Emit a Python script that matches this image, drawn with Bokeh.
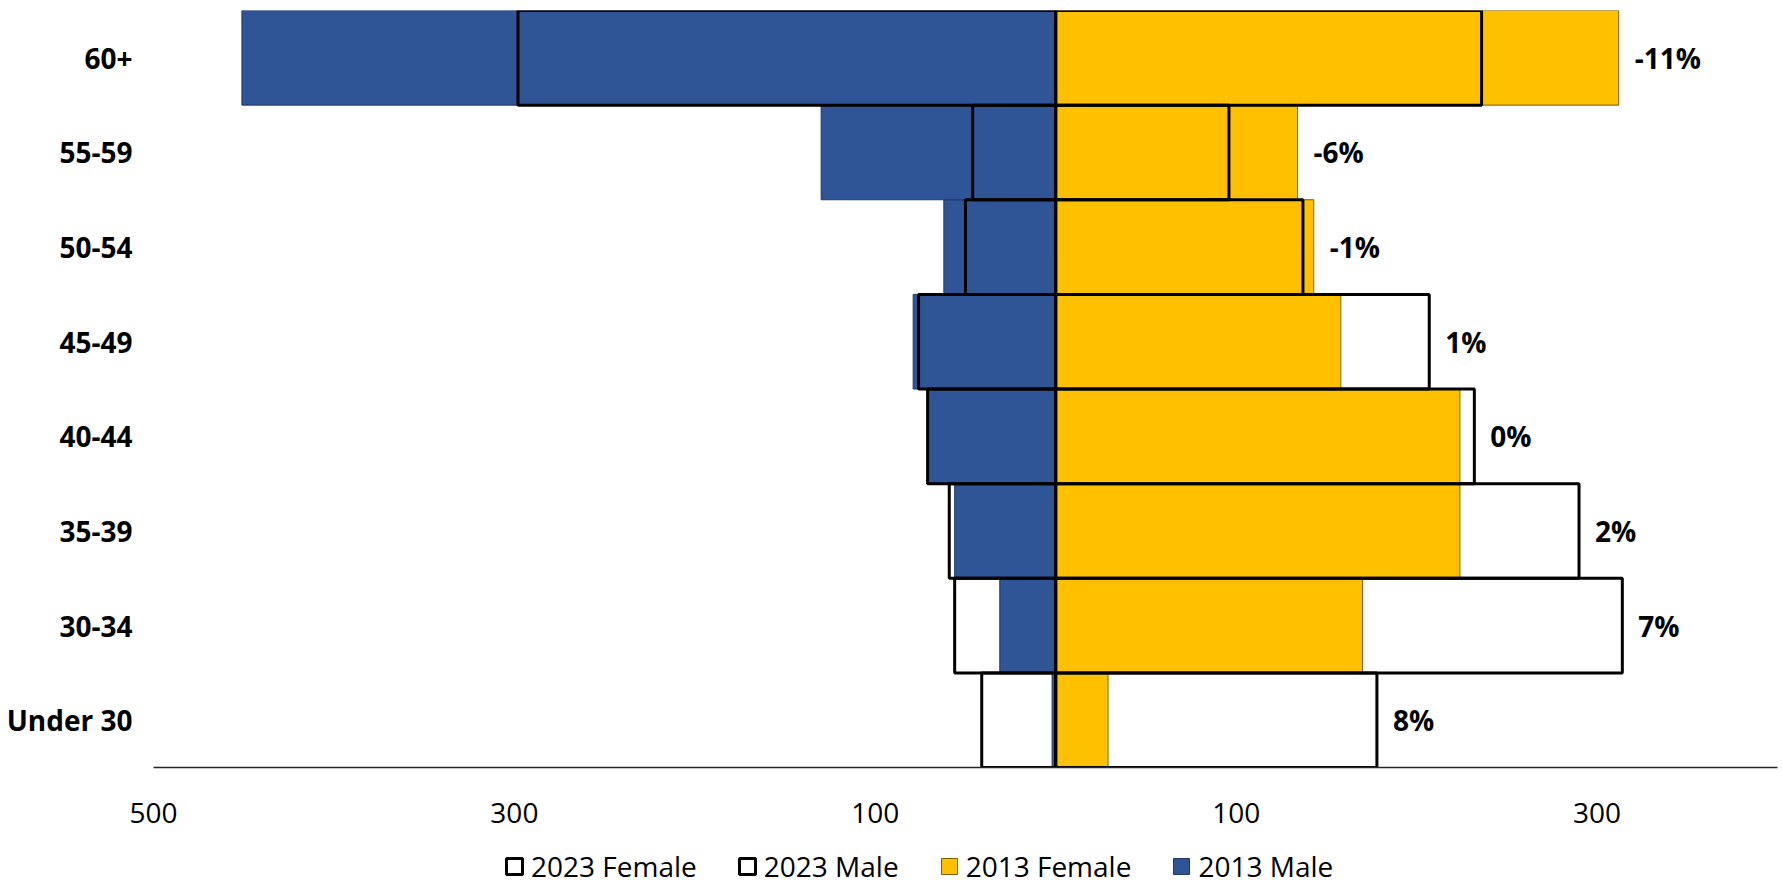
from bokeh.plotting import figure
from bokeh.models import (ColumnDataSource, FactorRange, Range1d, FixedTicker,
                          Legend, LegendItem)
from bokeh.layouts import column
from bokeh.embed import file_html
from bokeh.resources import INLINE
from bokeh.core.properties import value

# Age groups, bottom to top
categories = ["Under 30", "30-34", "35-39", "40-44", "45-49", "50-54", "55-59", "60+"]
male_2013 = [2, 31, 56, 71, 79, 62, 130, 451]
male_2023 = [41, 56, 59, 71, 76, 50, 46, 298]
female_2013 = [29, 170, 224, 224, 158, 143, 134, 312]
female_2023 = [178, 314, 290, 232, 207, 137, 96, 236]
change_labels = ["8%", "7%", "2%", "0%", "1%", "-1%", "-6%", "-11%"]
tick_values = [-500, -300, -100, 100, 300]
tick_labels = ["500", "300", "100", "100", "300"]
legend_labels = ["2023 Female", "2023 Male", "2013 Female", "2013 Male"]

FONT = "Open Sans"
BLUE, BLUE_EDGE = "#2F5597", "#1F3864"
GOLD, GOLD_EDGE = "#FFC000", "#7F6000"

W = 1778
H_MAIN = 845
LEFT = 153

src = ColumnDataSource(dict(
    cat=categories,
    m13=[-v for v in male_2013],
    m23=[-v for v in male_2023],
    f13=female_2013,
    f23=female_2023,
    lx=[max(a, b) for a, b in zip(female_2013, female_2023)],
    lab=change_labels,
))

p = figure(width=W, height=H_MAIN, output_backend="svg", toolbar_location=None,
           x_range=Range1d(-500, 400), y_range=FactorRange(*categories, range_padding=0),
           min_border_left=LEFT, min_border_right=1, min_border_top=10,
           min_border_bottom=H_MAIN - 767)
p.outline_line_color = None
p.xgrid.visible = False
p.ygrid.visible = False

p.hbar(y="cat", left="m13", right=0, height=1.0, source=src,
       fill_color=BLUE, line_color=BLUE_EDGE, line_width=1)
p.hbar(y="cat", left=0, right="f13", height=1.0, source=src,
       fill_color=GOLD, line_color=GOLD_EDGE, line_width=1)
p.hbar(y="cat", left="m23", right=0, height=1.0, source=src,
       fill_color=None, line_color="black", line_width=3)
p.hbar(y="cat", left=0, right="f23", height=1.0, source=src,
       fill_color=None, line_color="black", line_width=3)

p.text(x="lx", y="cat", text="lab", source=src, x_offset=16,
       text_align="left", text_baseline="middle", text_font=value(FONT),
       text_font_style="bold", text_font_size="28px", text_color="black")

# x axis
p.xaxis.ticker = FixedTicker(ticks=tick_values)
p.xaxis.major_label_overrides = {float(t): l for t, l in zip(tick_values, tick_labels)}
p.xaxis.major_tick_out = 0
p.xaxis.major_tick_in = 0
p.xaxis.minor_tick_out = 0
p.xaxis.minor_tick_in = 0
p.xaxis.axis_line_color = "#262626"
p.xaxis.axis_line_width = 1.5
p.xaxis.major_label_standoff = 35
p.xaxis.major_label_text_font = FONT
p.xaxis.major_label_text_font_size = "28px"
p.xaxis.major_label_text_color = "black"

# y axis
p.yaxis.axis_line_color = None
p.yaxis.major_tick_out = 0
p.yaxis.major_tick_in = 0
p.yaxis.minor_tick_out = 0
p.yaxis.major_label_standoff = 21
p.yaxis.major_label_text_font = FONT
p.yaxis.major_label_text_font_style = "bold"
p.yaxis.major_label_text_font_size = "28px"
p.yaxis.major_label_text_color = "black"

# Legend strip below the chart (proxy bars hold no drawable data)
lg = figure(width=W, height=886 - H_MAIN, output_backend="svg", toolbar_location=None,
            x_range=Range1d(0, 1), y_range=Range1d(0, 1),
            x_axis_location=None, y_axis_location=None,
            min_border_left=0, min_border_right=0, min_border_top=0, min_border_bottom=0)
lg.outline_line_color = None
lg.xgrid.visible = False
lg.ygrid.visible = False

NAN = float("nan")


def proxy(**style):
    s = ColumnDataSource(dict(y=[NAN], left=[NAN], right=[NAN]))
    return lg.hbar(y="y", left="left", right="right", height=0.5, source=s, **style)


k_f23 = proxy(fill_color=None, line_color="black", line_width=3)
k_m23 = proxy(fill_color=None, line_color="black", line_width=3)
k_f13 = proxy(fill_color=GOLD, line_color=GOLD_EDGE, line_width=1)
k_m13 = proxy(fill_color=BLUE, line_color=BLUE_EDGE, line_width=1)

legend = Legend(items=[LegendItem(label=l, renderers=[r]) for l, r in
                       zip(legend_labels, [k_f23, k_m23, k_f13, k_m13])],
                orientation="horizontal", location=(504 - LEFT, 1), padding=0, margin=0,
                spacing=40, glyph_width=20, glyph_height=20, label_standoff=7,
                label_text_font=FONT, label_text_font_size="28px",
                label_text_color="black", border_line_color=None,
                background_fill_alpha=0)
lg.add_layout(legend, "center")

layout = column(p, lg, spacing=0)
open("out.html", "w").write(file_html(layout, INLINE))
